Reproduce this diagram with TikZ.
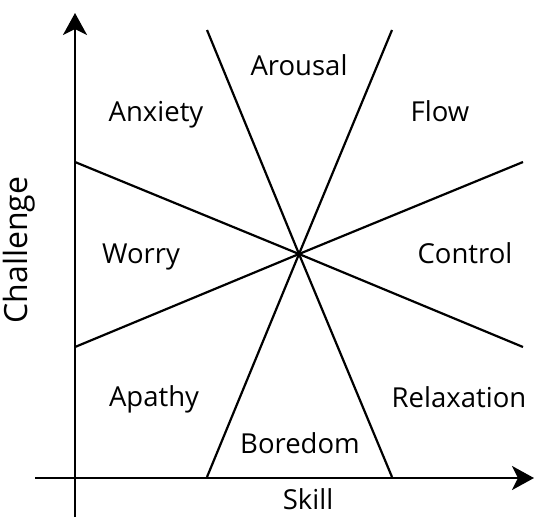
\documentclass[tikz,border=0pt]{standalone}
\usepackage{fontspec}
\setmainfont{Open Sans}
\usetikzlibrary{arrows.meta}
\begin{document}
\begin{tikzpicture}[x=1pt,y=-1pt,
  axis/.style={line width=2.6pt,-{Stealth[length=22pt,width=24pt,inset=6pt]}},
  divider/.style={line width=2.2pt},
  lbl/.style={font=\fontsize{27.5}{30}\selectfont,inner sep=0pt,anchor=base},
  axlbl/.style={font=\fontsize{27.5}{30}\selectfont,inner sep=0pt}]
\useasboundingbox (0,0) rectangle (534,517);
\coordinate (C) at (299,254);
\coordinate (T1) at (207,30);
\coordinate (T2) at (392,30);
\coordinate (B1) at (207,477);
\coordinate (B2) at (392,477);
\coordinate (L1) at (75,162);
\coordinate (L2) at (75,347);
\coordinate (R1) at (523,162);
\coordinate (R2) at (523,347);
\coordinate (yb) at (75,517);
\coordinate (yt) at (75,13);
\coordinate (xl) at (35,478);
\coordinate (xr) at (534,478);
\draw[divider] (T1) -- (C) -- (B2);
\draw[divider] (T2) -- (C) -- (B1);
\draw[divider] (L1) -- (C) -- (R2);
\draw[divider] (L2) -- (C) -- (R1);
\draw[axis] (yb) -- (yt);
\draw[axis] (xl) -- (xr);
\node[lbl] (arousal) at (299,75) {Arousal};
\node[lbl] (anxiety) at (156,121) {Anxiety};
\node[lbl] (flow) at (440,121) {Flow};
\node[lbl] (worry) at (141,263) {Worry};
\node[lbl] (control) at (465,263) {Control};
\node[lbl] (apathy) at (154,406) {Apathy};
\node[lbl] (relax) at (459,407) {Relaxation};
\node[lbl] (boredom) at (300,453) {Boredom};
\node[lbl] (skill) at (308,509) {Skill};
\node[axlbl,font=\fontsize{32}{34}\selectfont,rotate=90] (challenge) at (19,250) {Challenge};
\end{tikzpicture}
\end{document}
